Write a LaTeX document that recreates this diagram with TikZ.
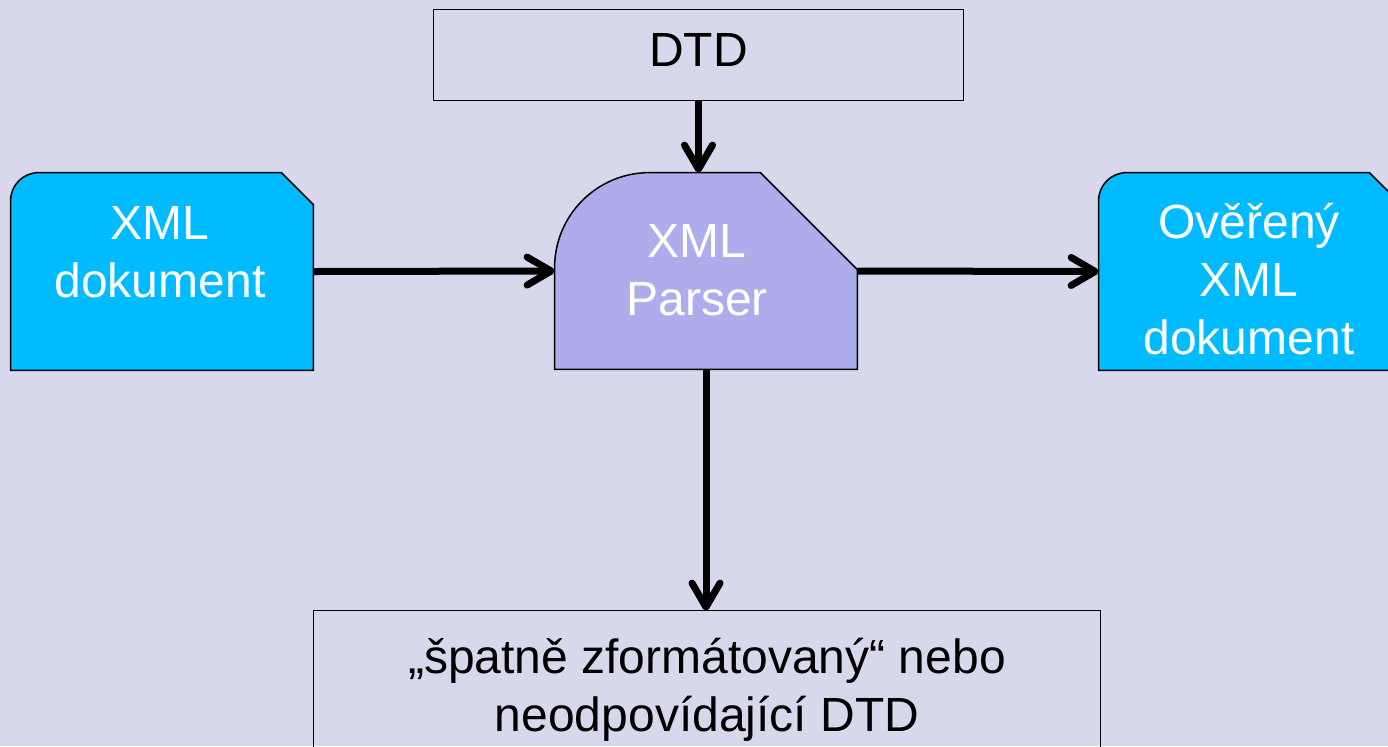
\documentclass[tikz,border=0pt]{standalone}
\usepackage{fontspec}
\setmainfont{Liberation Sans}
\usetikzlibrary{arrows.meta}

\definecolor{bgLav}{RGB}{216,216,236}
\definecolor{docCyan}{RGB}{0,187,255}
\definecolor{parserLav}{RGB}{173,173,235}

\newcommand{\hstrut}{\rule{0pt}{24pt}}
\newcommand{\dstrut}{\rule[-8pt]{0pt}{0pt}}

\tikzset{
  box/.style={inner sep=0pt, minimum width=151pt, minimum height=98.5pt},
  txt/.style={inner sep=0pt, align=center, font=\fontsize{24pt}{29pt}\selectfont},
  outline/.style={draw=black, line width=0.75pt},
  arr/.style={line width=3.5pt, -{Straight Barb[length=12pt,width=14pt,round]}}
}

\begin{document}
\begin{tikzpicture}[x=0.5pt,y=-0.5pt]
\useasboundingbox (0,0) rectangle (1388,746);
\clip (0,0) rectangle (1388,746);
\fill[bgLav] (0,0) rectangle (1388,746);

% boxes
\node[box, minimum width=264.5pt, minimum height=45pt] (dtd) at (698.5,55) {};
\node[box] (xml) at (162,271.5) {};
\node[box, minimum height=98pt] (parser) at (706,271) {};
\node[box] (ok) at (1250,271.5) {};
\node[box, minimum width=393pt, minimum height=100pt] (err) at (707,711) {};

\draw[outline] (dtd.north west) rectangle (dtd.south east);
\draw[outline] (err.north west) rectangle (err.south east);
\foreach \d in {xml,ok}
  \draw[outline, fill=docCyan] ([yshift=-14pt]\d.north west) arc[start angle=180, end angle=90, radius=14pt]
    -- ([xshift=-16pt]\d.north east) -- ([yshift=-16pt]\d.north east) -- (\d.south east) -- (\d.south west) -- cycle;
\draw[outline, fill=parserLav] ([yshift=-47.5pt]parser.north west) arc[start angle=180, end angle=90, radius=47.5pt]
  -- ([xshift=-48.5pt]parser.north east) -- ([yshift=-48.5pt]parser.north east) -- (parser.south east) -- (parser.south west) -- cycle;

% texts
\node[txt] (dtdT) at (698.5,50) {\hstrut DTD\dstrut};
\node[txt, text=white] (xmlT) at (160,252) {\hstrut XML\\dokument\dstrut};
\node[txt, text=white] (parserT) at (697,270.5) {\hstrut XML\\Parser\dstrut};
\node[txt, text=white] (okT) at (1249,280.5) {\hstrut Ověřený\\XML\\dokument\dstrut};
\node[txt] (errT) at (707,686.5) {\hstrut „špatně zformátovaný“ nebo\\neodpovídající DTD\dstrut};

% arrows
\draw[arr] (dtd.south) -- (dtd.south |- parser.north);
\draw[arr] (xml.east) -- (parser.west);
\draw[arr] (parser.east) -- (ok.west);
\draw[arr] (parser.south) -- (parser.south |- err.north);

\end{tikzpicture}
\end{document}
